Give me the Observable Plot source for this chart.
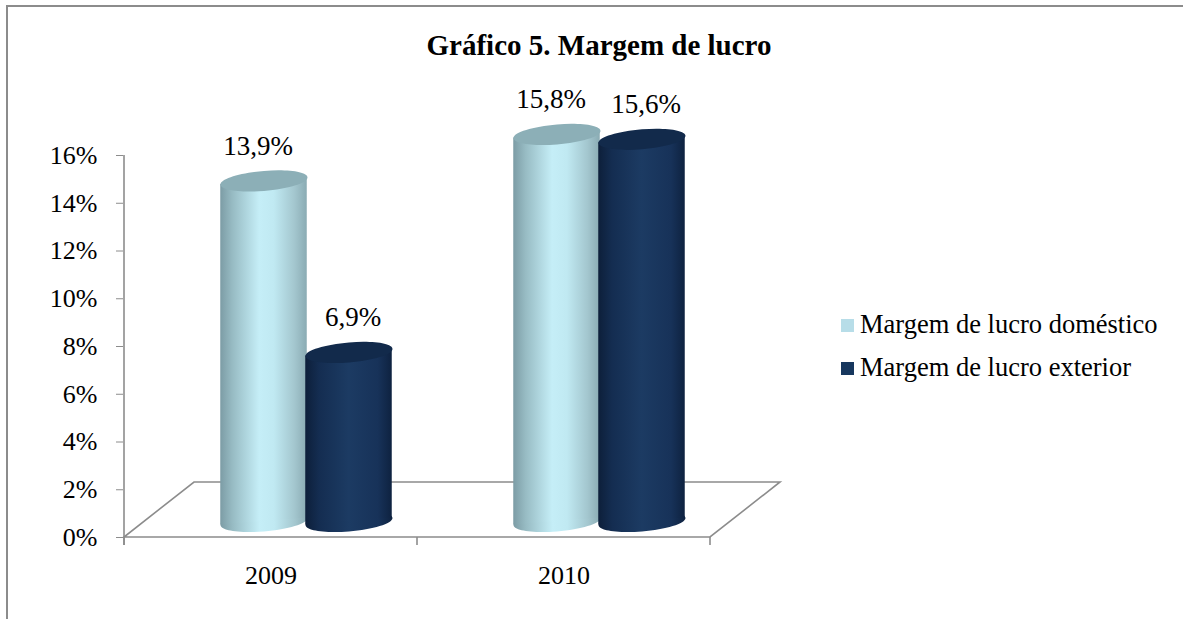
<!DOCTYPE html>
<html>
<head>
<meta charset="utf-8">
<script src="https://cdn.jsdelivr.net/npm/d3@7"></script>
<script src="https://cdn.jsdelivr.net/npm/@observablehq/plot@0.6"></script>
<style>
  body { margin: 0; background: #fff; }
  #wrap { position: relative; width: 1183px; height: 619px; overflow: hidden; background: #fff;
          font-family: "Liberation Serif", "Times New Roman", serif; color: #000; }
  #wrap svg.layer { position: absolute; left: 0; top: 0; overflow: visible; }
  #border { position: absolute; left: 6px; top: 5px; width: 1300px; height: 700px;
            border-left: 2px solid #8c8c8c; border-top: 2px solid #8c8c8c; }
  #title { position: absolute; left: 15px; width: 1168px; top: 29px; text-align: center;
           font-weight: bold; font-size: 29px; line-height: 32px; }
  .leg { position: absolute; left: 841px; font-size: 26.5px; line-height: 30px; white-space: nowrap; }
  .leg .sw { display: inline-block; width: 13px; height: 13px; margin-right: 6px; vertical-align: 1px; }
  g[fill="url(#gLight)"] rect, g[fill="url(#gDark)"] rect {
    transform-box: fill-box; transform-origin: center; transform: skewY(-4.6deg);
  }
  .axisplot g[aria-label="y-axis tick"] { stroke: #8c8c8c; }
  .axisplot g.tick line { stroke: #8c8c8c; }
</style>
</head>
<body>
<svg width="0" height="0" style="position:absolute">
  <defs>
    <linearGradient id="gLight" x1="0" x2="1" y1="0" y2="0">
      <stop offset="0%" stop-color="#7c9ca5"/>
      <stop offset="14%" stop-color="#97bbc3"/>
      <stop offset="45%" stop-color="#c5eef7"/>
      <stop offset="62%" stop-color="#c0e9f2"/>
      <stop offset="86%" stop-color="#a3c6ce"/>
      <stop offset="100%" stop-color="#8aabb3"/>
    </linearGradient>
    <linearGradient id="gDark" x1="0" x2="1" y1="0" y2="0">
      <stop offset="0%" stop-color="#0d1f3a"/>
      <stop offset="16%" stop-color="#142d51"/>
      <stop offset="50%" stop-color="#1c3b63"/>
      <stop offset="84%" stop-color="#173259"/>
      <stop offset="100%" stop-color="#0e2240"/>
    </linearGradient>
  </defs>
</svg>
<div id="wrap">
  <div id="border"></div>
  <div id="title"></div>
</div>
<script>
// ---- data ----
const titleText = "Gráfico 5. Margem de lucro";
const years = ["2009", "2010"];
const seriesNames = ["Margem de lucro doméstico", "Margem de lucro exterior"];
const domestico = [13.9, 15.8];
const exterior = [6.9, 15.6];
const yTicks = [0, 2, 4, 6, 8, 10, 12, 14, 16];
const legendColors = ["#b7dde8", "#17375e"];
const topColors = ["#8cafb7", "#122a4b"];
const bodyFills = ["url(#gLight)", "url(#gDark)"];

const domRows = years.map((y, i) => ({year: y, value: domestico[i]}));
const extRows = years.map((y, i) => ({year: y, value: exterior[i]}));

const W = 1183, H = 619;
const FONT = "Liberation Serif, Times New Roman, serif";
const fmt = v => v.toFixed(1).replace(".", ",") + "%";

// skewed-ellipse symbol for cylinder caps
function capSymbol(rx, ry, skewDeg) {
  const t = Math.tan(skewDeg * Math.PI / 180), k = 0.5522847;
  const P = (u, v) => [rx * u, ry * v + rx * u * t];
  return {
    draw(ctx) {
      ctx.moveTo(...P(1, 0));
      ctx.bezierCurveTo(...P(1, k), ...P(k, 1), ...P(0, 1));
      ctx.bezierCurveTo(...P(-k, 1), ...P(-1, k), ...P(-1, 0));
      ctx.bezierCurveTo(...P(-1, -k), ...P(-k, -1), ...P(0, -1));
      ctx.bezierCurveTo(...P(k, -1), ...P(1, -k), ...P(1, 0));
      ctx.closePath();
    }
  };
}
const cap = capSymbol(43.5, 10, -4.6);
const inset = (293.5 - 87) / 2;
const offs = [-42, 43];
const labelOffs = [-48, 47];

document.getElementById("title").textContent = titleText;

// ---- axis / floor layer ----
const floorMark = (index, scales) => {
  const x = scales.x, y = scales.y;
  const bw = x(years[1]) - x(years[0]);
  const x0 = x(years[0]), x1 = x(years[years.length - 1]) + bw;
  const y0 = y(0), yTop = y(yTicks[yTicks.length - 1]);
  const dX = 70, dY = -55;
  const g = d3.create("svg:g").attr("fill", "none").attr("stroke", "#8c8c8c").attr("stroke-width", 1.6);
  g.append("path").attr("d", `M${x0},${y0}L${x1},${y0}L${x1 + dX},${y0 + dY}L${x0 + dX},${y0 + dY}Z`);
  g.append("path").attr("d", `M${x0},${yTop}L${x0},${y0 + 8}`);
  const bx = years.map(v => x(v)).concat([x1]);
  bx.forEach(v => g.append("path").attr("d", `M${v},${y0}L${v},${y0 + 8}`));
  return g.node();
};

const axisPlot = Plot.plot({
  width: W, height: H,
  marginLeft: 123, marginRight: W - 710, marginTop: 155, marginBottom: H - 537,
  x: {type: "band", domain: years, padding: 0, tickSize: 0, tickPadding: 28, label: null, fontSize: 26},
  y: {domain: [0, 16], ticks: yTicks, tickFormat: d => d + "%", tickSize: 7, tickPadding: 19, label: null},
  style: {fontFamily: FONT, fontSize: "26px", color: "#000", background: "transparent", overflow: "visible"},
  marks: [floorMark]
});
axisPlot.classList.add("layer", "axisplot");
document.getElementById("wrap").appendChild(axisPlot);

// ---- cylinders layer ----
const groups = [domRows, extRows];
const barMarks = [];
groups.forEach((rows, i) => {
  barMarks.push(Plot.dot(rows, {x: "year", y: () => 0, dx: offs[i], symbol: cap, r: 5, fill: bodyFills[i], stroke: "none"}));
  barMarks.push(Plot.barY(rows, {x: "year", y1: () => 0, y2: "value", dx: offs[i], insetLeft: inset, insetRight: inset, fill: bodyFills[i]}));
  barMarks.push(Plot.dot(rows, {x: "year", y: "value", dx: offs[i], symbol: cap, r: 5, fill: topColors[i], stroke: "none"}));
});
groups.forEach((rows, i) => {
  barMarks.push(Plot.text(rows, {x: "year", y: "value", text: d => fmt(d.value), dx: labelOffs[i], dy: -26,
    lineAnchor: "bottom", fontSize: 27, fontFamily: FONT, fill: "#000"}));
});

const barPlot = Plot.plot({
  width: W, height: H,
  marginLeft: 158, marginRight: W - 745, marginTop: 129, marginBottom: H - 521,
  x: {domain: years, padding: 0, axis: null},
  y: {domain: [0, 16], axis: null},
  style: {background: "transparent", overflow: "visible"},
  marks: barMarks
});
barPlot.classList.add("layer");
document.getElementById("wrap").appendChild(barPlot);

// ---- legend ----
const legTops = [309, 352];
seriesNames.forEach((name, i) => {
  const d = document.createElement("div");
  d.className = "leg";
  d.style.top = legTops[i] + "px";
  const sw = document.createElement("span");
  sw.className = "sw";
  sw.style.background = legendColors[i];
  d.appendChild(sw);
  d.appendChild(document.createTextNode(name));
  document.getElementById("wrap").appendChild(d);
});
</script>
</body>
</html>
